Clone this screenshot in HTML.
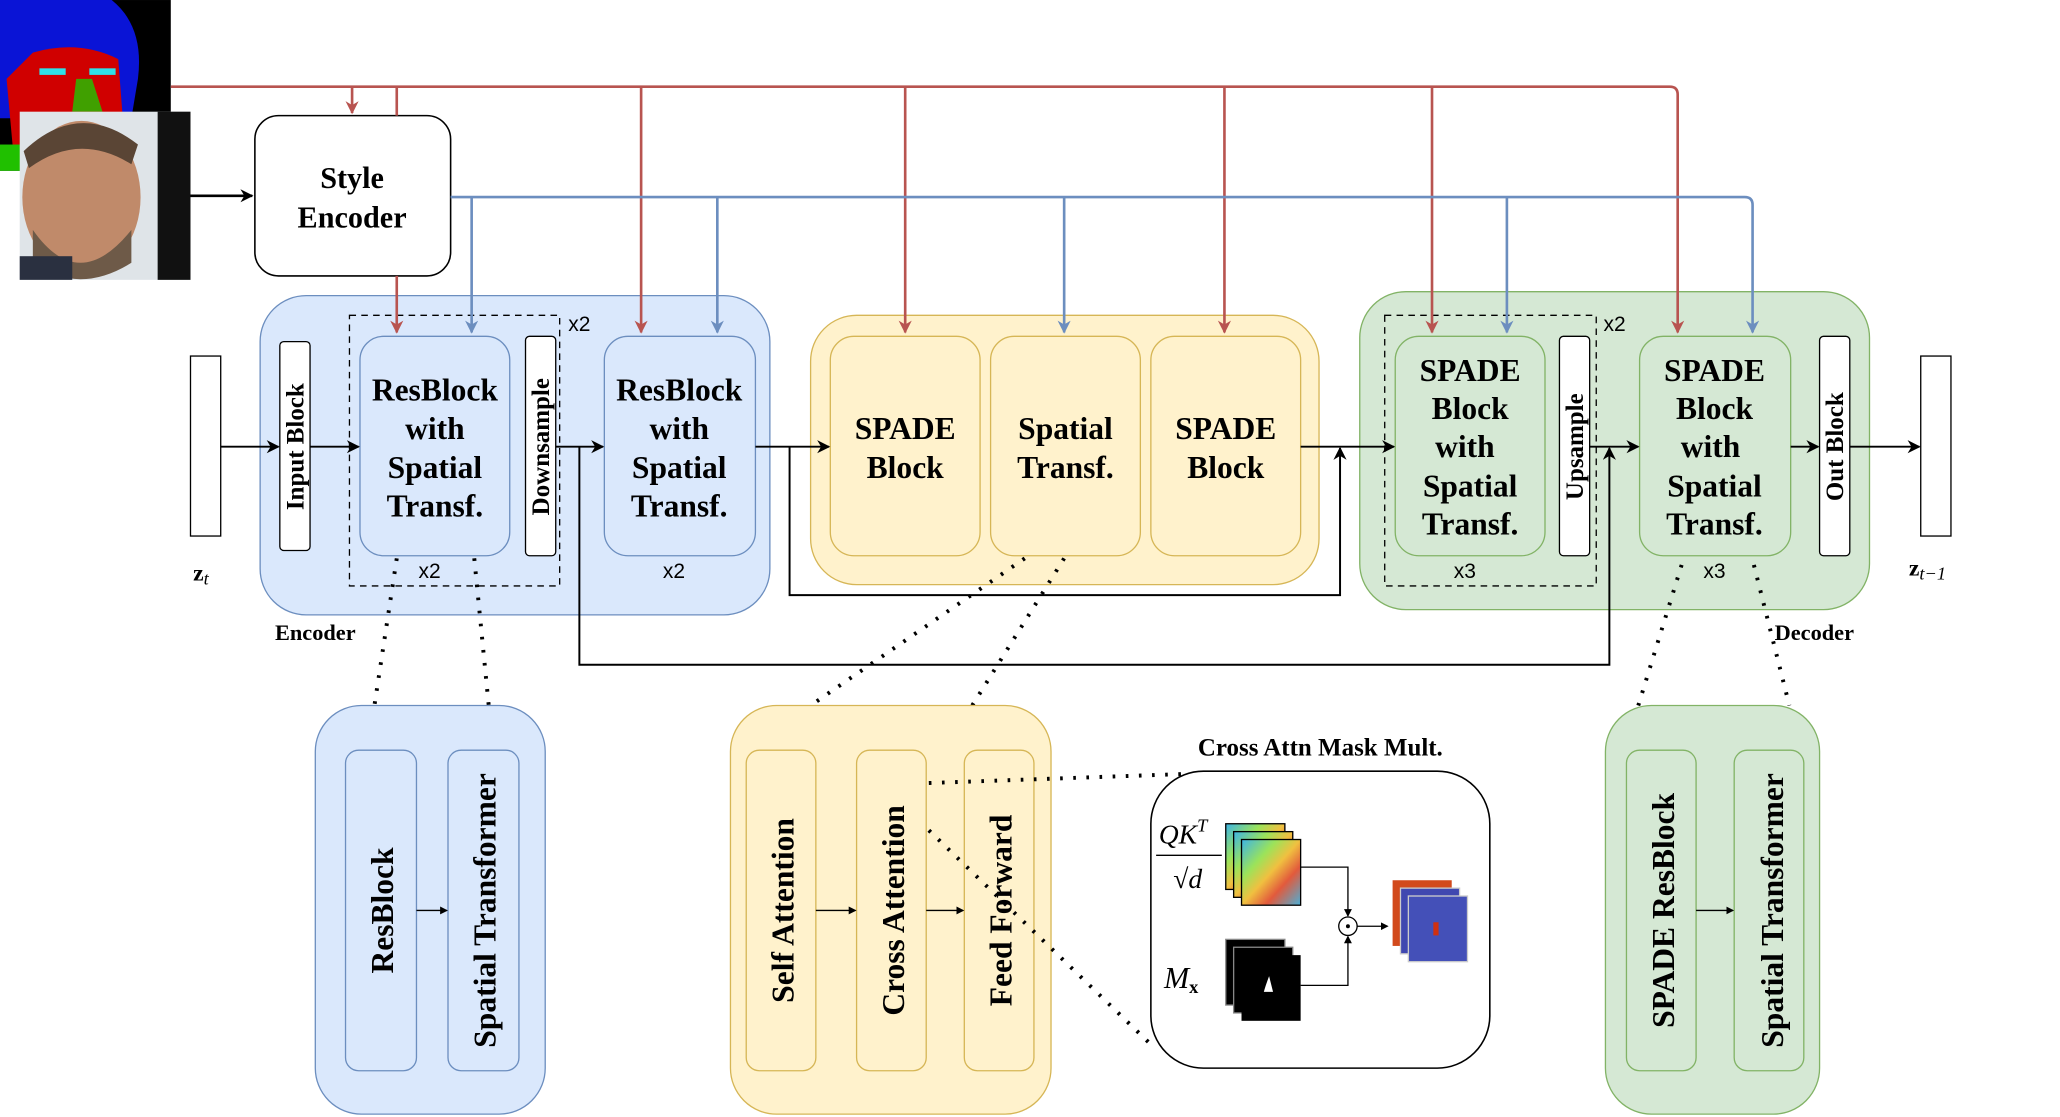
<!DOCTYPE html>
<html><head><meta charset="utf-8"><style>
html,body{margin:0;padding:0;background:#fff;}
svg{display:block;}
.t{font-family:"Liberation Serif",serif;font-weight:bold;fill:#000;}
.s{font-family:"Liberation Sans",sans-serif;fill:#000;}
</style></head><body>
<svg width="2060" height="1117" viewBox="0 0 1568 850.2" xmlns="http://www.w3.org/2000/svg">
<defs>
<marker id="ak" markerWidth="10" markerHeight="10" refX="9" refY="5" orient="auto" markerUnits="userSpaceOnUse"><path d="M0,0 L10,5 L0,10 L3,5 Z" fill="#000"/></marker>
<marker id="ar" markerWidth="10" markerHeight="12" refX="9" refY="5" orient="auto" markerUnits="userSpaceOnUse"><path d="M0,0 L10,5 L0,10 L3,5 Z" fill="#b85450"/></marker>
<marker id="ab" markerWidth="10" markerHeight="12" refX="9" refY="5" orient="auto" markerUnits="userSpaceOnUse"><path d="M0,0 L10,5 L0,10 L3,5 Z" fill="#6c8ebf"/></marker>
<marker id="as" markerWidth="6" markerHeight="6" refX="5" refY="3" orient="auto" markerUnits="userSpaceOnUse"><path d="M0,0 L6,3 L0,6 Z" fill="#000"/></marker>
<linearGradient id="heat" x1="0" y1="0" x2="1" y2="1"><stop offset="0" stop-color="#3cb4e6"/><stop offset="0.3" stop-color="#9be35a"/><stop offset="0.5" stop-color="#f0c040"/><stop offset="0.7" stop-color="#e25a3c"/><stop offset="1" stop-color="#4ab0d8"/></linearGradient>
</defs>

<!-- segmentation image -->
<rect x="0" y="0" width="130" height="130" fill="#000"/>
<path d="M0,0 L85,0 Q110,20 105,60 L100,90 L0,90 Z" fill="#0a14d6"/>
<path d="M25,40 Q60,30 90,45 L95,110 L10,115 L5,60 Z" fill="#d00000"/>
<rect x="30" y="52" width="20" height="5" fill="#30e0e8"/><rect x="68" y="52" width="20" height="5" fill="#30e0e8"/>
<path d="M58,60 L70,60 L78,85 L55,85 Z" fill="#40a000"/>
<rect x="0" y="110" width="20" height="20" fill="#20c000"/>
<!-- face image -->
<rect x="15" y="85" width="130" height="128" fill="#dfe4e8"/>
<rect x="120" y="85" width="25" height="128" fill="#111"/>
<ellipse cx="62" cy="150" rx="45" ry="58" fill="#c08a6a"/>
<path d="M18,115 Q60,75 105,110 L100,125 Q60,100 22,128 Z" fill="#5a4535"/>
<path d="M25,175 Q60,225 100,175 L100,200 Q60,225 25,200 Z" fill="#6e5a48"/>
<rect x="15" y="195" width="40" height="18" fill="#2a3040"/>

<!-- style encoder -->
<rect x="194" y="88" width="149" height="122" rx="18" fill="#fff" stroke="#000" stroke-width="1.2"/>
<text class="t" x="268" y="143" font-size="23" text-anchor="middle">Style</text>
<text class="t" x="268" y="173" font-size="23" text-anchor="middle">Encoder</text>
<line x1="145" y1="149" x2="192" y2="149" stroke="#000" stroke-width="2" marker-end="url(#ak)"/>

<!-- Encoder group -->
<rect x="198" y="225" width="388" height="243" rx="35" fill="#dae8fc" stroke="#6c8ebf"/>
<rect x="266" y="240" width="160" height="206" fill="none" stroke="#000" stroke-dasharray="5,4"/>
<text class="s" x="441" y="252" font-size="16" text-anchor="middle">x2</text>
<rect x="213" y="260" width="23" height="159" rx="3" fill="#fff" stroke="#000"/>
<text class="t" font-size="19" text-anchor="middle" transform="translate(231,340) rotate(-90)">Input Block</text>
<rect x="274" y="256" width="114" height="167" rx="18" fill="#dae8fc" stroke="#6c8ebf"/>
<g class="t" font-size="24" text-anchor="middle">
<text x="331" y="305">ResBlock</text><text x="331" y="334">with</text><text x="331" y="364">Spatial</text><text x="331" y="393">Transf.</text>
</g>
<rect x="400" y="256" width="23" height="167" rx="3" fill="#fff" stroke="#000"/>
<text class="t" font-size="19" text-anchor="middle" transform="translate(418,340) rotate(-90)">Downsample</text>
<text class="s" x="327" y="440" font-size="16" text-anchor="middle">x2</text>
<rect x="460" y="256" width="115" height="167" rx="18" fill="#dae8fc" stroke="#6c8ebf"/>
<g class="t" font-size="24" text-anchor="middle">
<text x="517" y="305">ResBlock</text><text x="517" y="334">with</text><text x="517" y="364">Spatial</text><text x="517" y="393">Transf.</text>
</g>
<text class="s" x="513" y="440" font-size="16" text-anchor="middle">x2</text>
<text class="t" x="240" y="487" font-size="17" text-anchor="middle">Encoder</text>

<!-- zt -->
<rect x="145" y="271" width="23" height="137" fill="#fff" stroke="#000"/>
<text class="t" x="147" y="442" font-size="18">z<tspan font-style="italic" font-weight="normal" font-size="14" dy="3">t</tspan></text>

<!-- Spade group -->
<rect x="617" y="240" width="387" height="205" rx="35" fill="#fff2cc" stroke="#d6b656"/>
<rect x="632" y="256" width="114" height="167" rx="18" fill="#fff2cc" stroke="#d6b656"/>
<rect x="754" y="256" width="114" height="167" rx="18" fill="#fff2cc" stroke="#d6b656"/>
<rect x="876" y="256" width="114" height="167" rx="18" fill="#fff2cc" stroke="#d6b656"/>
<g class="t" font-size="24" text-anchor="middle">
<text x="689" y="334">SPADE</text><text x="689" y="364">Block</text>
<text x="811" y="334">Spatial</text><text x="811" y="364">Transf.</text>
<text x="933" y="334">SPADE</text><text x="933" y="364">Block</text>
</g>

<!-- Decoder group -->
<rect x="1035" y="222" width="388" height="242" rx="35" fill="#d5e8d4" stroke="#82b366"/>
<rect x="1054" y="240" width="161" height="206" fill="none" stroke="#000" stroke-dasharray="5,4"/>
<text class="s" x="1229" y="252" font-size="16" text-anchor="middle">x2</text>
<rect x="1062" y="256" width="114" height="167" rx="18" fill="#d5e8d4" stroke="#82b366"/>
<g class="t" font-size="24" text-anchor="middle">
<text x="1119" y="290">SPADE</text><text x="1119" y="319">Block</text><text x="1115" y="348">with</text><text x="1119" y="378">Spatial</text><text x="1119" y="407">Transf.</text>
</g>
<rect x="1187" y="256" width="23" height="167" rx="3" fill="#fff" stroke="#000"/>
<text class="t" font-size="19" text-anchor="middle" transform="translate(1205,340) rotate(-90)">Upsample</text>
<text class="s" x="1115" y="440" font-size="16" text-anchor="middle">x3</text>
<rect x="1248" y="256" width="115" height="167" rx="18" fill="#d5e8d4" stroke="#82b366"/>
<g class="t" font-size="24" text-anchor="middle">
<text x="1305" y="290">SPADE</text><text x="1305" y="319">Block</text><text x="1302" y="348">with</text><text x="1305" y="378">Spatial</text><text x="1305" y="407">Transf.</text>
</g>
<rect x="1385" y="256" width="23" height="167" rx="3" fill="#fff" stroke="#000"/>
<text class="t" font-size="19" text-anchor="middle" transform="translate(1403,340) rotate(-90)">Out Block</text>
<text class="s" x="1305" y="440" font-size="16" text-anchor="middle">x3</text>
<text class="t" x="1381" y="487" font-size="17" text-anchor="middle">Decoder</text>
<rect x="1462" y="271" width="23" height="137" fill="#fff" stroke="#000"/>
<text class="t" x="1453" y="438" font-size="18">z<tspan font-style="italic" font-weight="normal" font-size="14" dy="3">t−1</tspan></text>

<!-- red lines -->
<g fill="none" stroke="#b85450" stroke-width="2">
<path d="M130,66 H1271 Q1277,66 1277,72 V253" marker-end="url(#ar)"/>
<path d="M268,66 V86" marker-end="url(#ar)"/>
<path d="M302,66 V88"/>
<path d="M302,210 V253" marker-end="url(#ar)"/>
<path d="M488,66 V253" marker-end="url(#ar)"/>
<path d="M689,66 V253" marker-end="url(#ar)"/>
<path d="M932,66 V253" marker-end="url(#ar)"/>
<path d="M1090,66 V253" marker-end="url(#ar)"/>
</g>
<!-- blue lines -->
<g fill="none" stroke="#6c8ebf" stroke-width="2">
<path d="M343,150 H1328 Q1334,150 1334,156 V253" marker-end="url(#ab)"/>
<path d="M359,150 V253" marker-end="url(#ab)"/>
<path d="M546,150 V253" marker-end="url(#ab)"/>
<path d="M810,150 V253" marker-end="url(#ab)"/>
<path d="M1147,150 V253" marker-end="url(#ab)"/>
</g>

<!-- main flow arrows -->
<g stroke="#000" stroke-width="1.5" fill="none">
<line x1="168" y1="340" x2="212" y2="340" marker-end="url(#ak)"/>
<line x1="236" y1="340" x2="273" y2="340" marker-end="url(#ak)"/>
<line x1="423" y1="340" x2="459" y2="340" marker-end="url(#ak)"/>
<line x1="575" y1="340" x2="631" y2="340" marker-end="url(#ak)"/>
<line x1="990" y1="340" x2="1061" y2="340" marker-end="url(#ak)"/>
<line x1="1210" y1="340" x2="1247" y2="340" marker-end="url(#ak)"/>
<line x1="1363" y1="340" x2="1384" y2="340" marker-end="url(#ak)"/>
<line x1="1408" y1="340" x2="1461" y2="340" marker-end="url(#ak)"/>
<path d="M601,340 V453 H1020 V341" marker-end="url(#ak)"/>
<path d="M441,340 V506 H1225 V341" marker-end="url(#ak)"/>
</g>

<!-- dotted zoom lines -->
<g stroke="#000" stroke-width="3" stroke-dasharray="2,8" fill="none">
<line x1="302" y1="425" x2="285" y2="537"/>
<line x1="361" y1="425" x2="372" y2="537"/>
<line x1="780" y1="425" x2="617" y2="537"/>
<line x1="810" y1="425" x2="740" y2="537"/>
<line x1="1280" y1="430" x2="1247" y2="537"/>
<line x1="1335" y1="430" x2="1362" y2="537"/>
</g>

<!-- bottom blue -->
<rect x="240" y="537" width="175" height="311" rx="35" fill="#dae8fc" stroke="#6c8ebf"/>
<rect x="263" y="571" width="54" height="244" rx="10" fill="#dae8fc" stroke="#6c8ebf"/>
<rect x="341" y="571" width="54" height="244" rx="10" fill="#dae8fc" stroke="#6c8ebf"/>
<text class="t" font-size="24" text-anchor="middle" transform="translate(299,693) rotate(-90)">ResBlock</text>
<text class="t" font-size="24" text-anchor="middle" transform="translate(377,693) rotate(-90)">Spatial Transformer</text>
<line x1="317" y1="693" x2="340" y2="693" stroke="#000" marker-end="url(#as)"/>

<!-- bottom yellow -->
<rect x="556" y="537" width="244" height="311" rx="35" fill="#fff2cc" stroke="#d6b656"/>
<rect x="568" y="571" width="53" height="244" rx="10" fill="#fff2cc" stroke="#d6b656"/>
<rect x="652" y="571" width="53" height="244" rx="10" fill="#fff2cc" stroke="#d6b656"/>
<rect x="734" y="571" width="53" height="244" rx="10" fill="#fff2cc" stroke="#d6b656"/>
<text class="t" font-size="24" text-anchor="middle" transform="translate(604,693) rotate(-90)">Self Attention</text>
<text class="t" font-size="24" text-anchor="middle" transform="translate(688,693) rotate(-90)">Cross Attention</text>
<text class="t" font-size="24" text-anchor="middle" transform="translate(770,693) rotate(-90)">Feed Forward</text>
<line x1="621" y1="693" x2="651" y2="693" stroke="#000" marker-end="url(#as)"/>
<line x1="705" y1="693" x2="733" y2="693" stroke="#000" marker-end="url(#as)"/>

<!-- bottom green -->
<rect x="1222" y="537" width="163" height="311" rx="35" fill="#d5e8d4" stroke="#82b366"/>
<rect x="1238" y="571" width="53" height="244" rx="10" fill="#d5e8d4" stroke="#82b366"/>
<rect x="1320" y="571" width="53" height="244" rx="10" fill="#d5e8d4" stroke="#82b366"/>
<text class="t" font-size="24" text-anchor="middle" transform="translate(1274,693) rotate(-90)">SPADE ResBlock</text>
<text class="t" font-size="24" text-anchor="middle" transform="translate(1357,693) rotate(-90)">Spatial Transformer</text>
<line x1="1291" y1="693" x2="1319" y2="693" stroke="#000" marker-end="url(#as)"/>

<!-- mask box -->
<text class="t" x="1005" y="575" font-size="19" text-anchor="middle">Cross Attn Mask Mult.</text>
<rect x="876" y="587" width="258" height="226" rx="40" fill="#fff" stroke="#000" stroke-width="1.2"/>
<g stroke="#000" stroke-width="3" stroke-dasharray="2,8" fill="none">
<line x1="707" y1="596" x2="905" y2="589"/>
<line x1="707" y1="632" x2="876" y2="795"/>
</g>
<text x="882" y="642" font-family="Liberation Serif,serif" font-style="italic" font-size="21">QK<tspan font-size="14" dy="-9">T</tspan></text>
<line x1="880" y1="651" x2="930" y2="651" stroke="#000"/>
<text x="893" y="676" font-family="Liberation Serif,serif" font-size="21">√<tspan font-style="italic">d</tspan></text>
<rect x="933" y="627" width="45" height="50" fill="url(#heat)" stroke="#000"/>
<rect x="939" y="633" width="45" height="50" fill="url(#heat)" stroke="#000"/>
<rect x="945" y="639" width="45" height="50" fill="url(#heat)" stroke="#000"/>
<text x="886" y="752" font-family="Liberation Serif,serif" font-style="italic" font-size="23">M<tspan font-style="normal" font-weight="bold" font-size="14" dy="4">x</tspan></text>
<rect x="933" y="715" width="45" height="50" fill="#000" stroke="#888"/>
<rect x="939" y="721" width="45" height="50" fill="#000" stroke="#888"/>
<rect x="945" y="727" width="45" height="50" fill="#000"/>
<path d="M966,743 q-3,8 -4,12 h7 q-1,-4 -3,-12z" fill="#fff"/>
<rect x="1060" y="670" width="45" height="50" fill="#d24a1c"/>
<rect x="1066" y="676" width="45" height="50" fill="#4048b0" stroke="#ccc"/>
<rect x="1072" y="682" width="45" height="50" fill="#4450b8" stroke="#ccc"/>
<rect x="1091" y="702" width="4" height="10" fill="#d03010"/>
<g stroke="#000" fill="none" stroke-width="1">
<path d="M990,660 H1026 V697" marker-end="url(#as)"/>
<path d="M990,750 H1026 V713" marker-end="url(#as)"/>
<line x1="1033" y1="705" x2="1056" y2="705" marker-end="url(#as)"/>
</g>
<circle cx="1026" cy="705" r="7" fill="#fff" stroke="#000"/>
<circle cx="1026" cy="705" r="1.5" fill="#000"/>
</svg>
</body></html>
